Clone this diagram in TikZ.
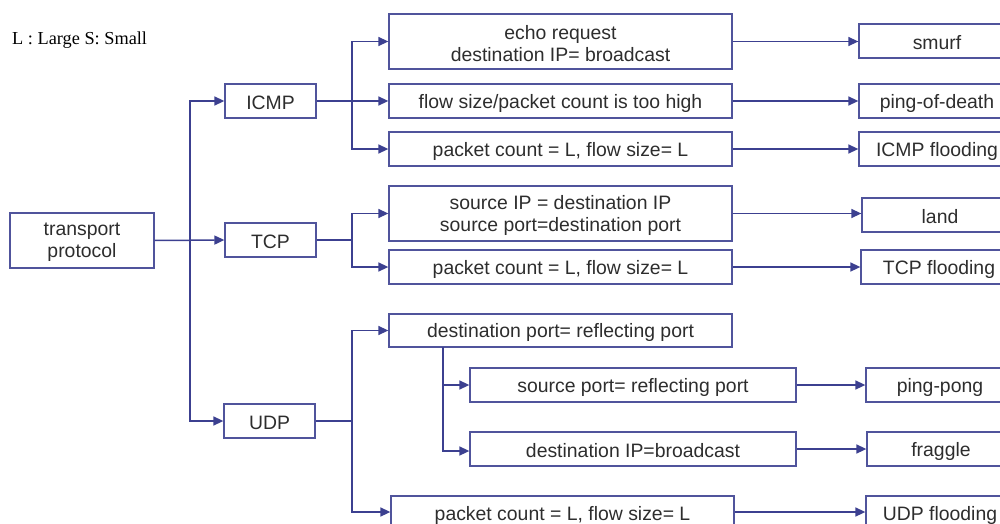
\documentclass[tikz,border=0pt]{standalone}
\usepackage{fontspec}
\setmainfont{Liberation Sans}
\newfontfamily\legendfont{Liberation Serif}
\usetikzlibrary{arrows.meta}
\definecolor{linkblue}{RGB}{60,64,144}
\definecolor{frameblue}{RGB}{80,84,156}
\definecolor{txtgray}{RGB}{45,45,45}
\tikzset{
  box/.style={draw=frameblue, line width=1.3pt, inner sep=0pt},
  boxtext/.style={inner sep=0pt, align=center, text=txtgray,
    font=\fontsize{19.4}{22}\selectfont},
  link/.style={draw=linkblue, line width=1.5pt},
  arr/.style={link, -{Triangle[length=10pt,width=9pt]}}
}
% box from its corners (x1,y1)-(x2,y2), y growing downwards, with its text
\newcommand{\cbox}[6]{%
  \pgfmathsetmacro{\bw}{#4-#2}\pgfmathsetmacro{\bh}{#5-#3}%
  \pgfmathsetmacro{\bx}{(#2+#4)/2}\pgfmathsetmacro{\by}{(#3+#5)/2}%
  \node[box, minimum width=\bw pt, minimum height=\bh pt] (#1) at (\bx,\by) {};
  \node[boxtext] (#1-t) at ([yshift=-2pt]#1.center) {#6};}
\begin{document}
\begin{tikzpicture}[x=1pt,y=-1pt]
\useasboundingbox (0,0) rectangle (1000,524);
\clip (0,0) rectangle (1000,524);

% legend
\node[anchor=west, inner sep=0pt, text=black, font=\legendfont\fontsize{18.3}{20}\selectfont] (legend) at (12,40) {L : Large S: Small};

% root and protocols
\cbox{tp}{10}{213}{154}{268}{transport\\protocol}
\cbox{icmp}{225}{84}{316}{118}{ICMP}
\cbox{tcp}{225}{223}{316}{257}{TCP}
\cbox{udp}{224}{404}{315}{438}{UDP}

% ICMP conditions
\cbox{echo}{389}{14}{732}{69}{echo request\\ destination IP= broadcast}
\cbox{flow}{389}{84}{732}{118}{flow size/packet count is too high}
\cbox{pkti}{389}{132}{732}{166}{packet count = L, flow size= L}
% TCP conditions
\cbox{sip}{389}{186}{732}{241}{source IP = destination IP\\source port=destination port}
\cbox{pktt}{389}{250}{732}{284}{packet count = L, flow size= L}
% UDP conditions
\cbox{dport}{389}{314}{732}{347}{destination port= reflecting port}
\cbox{sport}{470}{368}{796}{402}{source port= reflecting port}
\cbox{dip}{470}{432}{796}{466}{destination IP=broadcast}
\cbox{pktu}{391}{496}{734}{530}{packet count = L, flow size= L}

% attacks
\cbox{smurf}{859}{24}{1015}{58}{smurf}
\cbox{pod}{859}{84}{1015}{118}{ping-of-death}
\cbox{icmpf}{859}{132}{1015}{166}{ICMP flooding}
\cbox{land}{862}{198}{1018}{232}{land}
\cbox{tcpf}{861}{250}{1017}{284}{TCP flooding}
\cbox{pingpong}{866}{368}{1014}{402}{ping-pong}
\cbox{fraggle}{867}{432}{1015}{466}{fraggle}
\cbox{udpf}{866}{496}{1014}{530}{UDP flooding}

% junction points
\coordinate (j0) at (190,240);
\coordinate (ji) at (352,101);
\coordinate (jt) at (352,240);
\coordinate (ju) at (352,421);
\coordinate (jd) at (443,347);

% root to protocols
\draw[arr] (tp.east) -- (tcp.west);
\draw[arr] (j0) |- (icmp.west);
\draw[arr] (j0) |- (udp.west);

% ICMP branch
\draw[link] (icmp.east) -- (ji);
\draw[arr] (ji) |- (echo.west);
\draw[arr] (ji) -- (flow.west);
\draw[arr] (ji) |- (pkti.west);
% TCP branch
\draw[link] (tcp.east) -- (jt);
\draw[arr] (jt) |- (sip.west);
\draw[arr] (jt) |- (pktt.west);
% UDP branch
\draw[link] (udp.east) -- (ju);
\draw[arr] (ju) |- (dport.west);
\draw[arr] (ju) |- ([yshift=1pt]pktu.west);
\draw[arr] (jd) |- (sport.west);
\draw[arr] (jd) |- ([yshift=-2pt]dip.west);

% conditions to attacks
\draw[arr] (echo.east) -- (echo.east -| smurf.west);
\draw[arr] (flow.east) -- (pod.west);
\draw[arr] (pkti.east) -- (icmpf.west);
\draw[arr] (sip.east) -- (sip.east -| land.west);
\draw[arr] (pktt.east) -- (tcpf.west);
\draw[arr] (sport.east) -- (pingpong.west);
\draw[arr] (dip.east) -- (fraggle.west);
\draw[arr] ([yshift=1pt]pktu.east) -- ([yshift=1pt]udpf.west);
\end{tikzpicture}
\end{document}
